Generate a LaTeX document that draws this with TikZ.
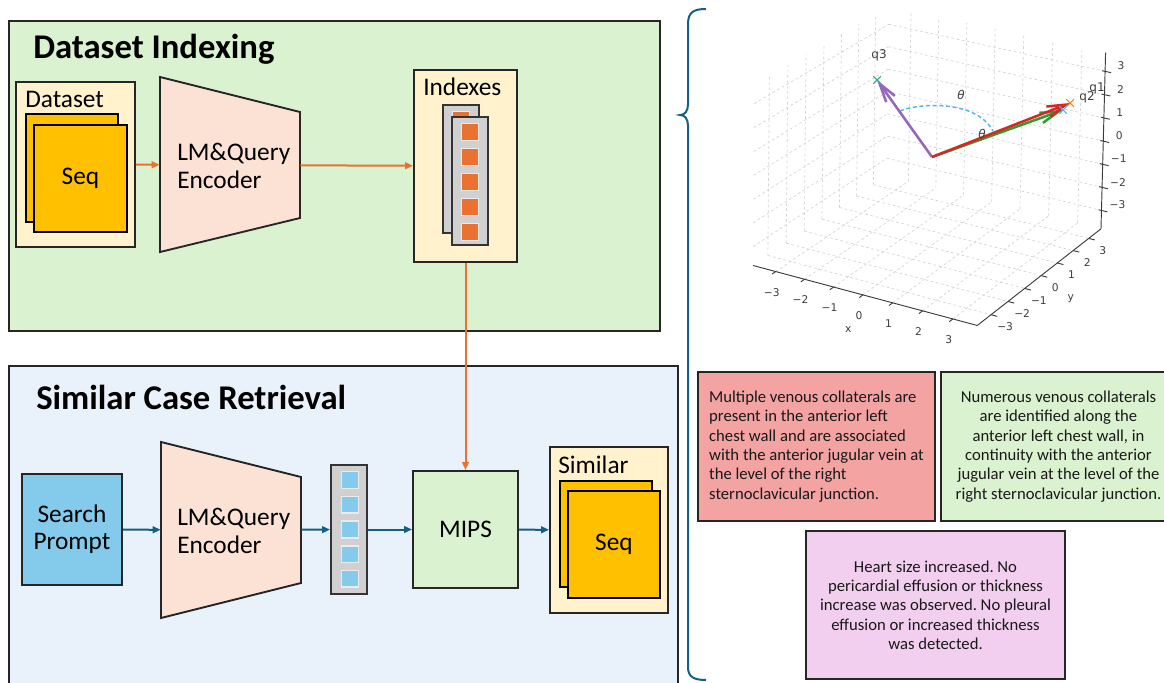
\documentclass[tikz,border=0pt]{standalone}
\usepackage{fontspec}
\setmainfont{Carlito}
\newfontfamily\pltfont{DejaVu Sans}
\usetikzlibrary{arrows.meta,positioning,fit,shapes.misc}
\definecolor{PanelGreen}{HTML}{DAF2D0}
\definecolor{PanelBlue}{HTML}{E9F1FA}
\definecolor{BoxCream}{HTML}{FFF2CC}
\definecolor{SeqGold}{HTML}{FFC000}
\definecolor{EncPeach}{HTML}{FBE2D5}
\definecolor{PromptBlue}{HTML}{84CBEB}
\definecolor{FlowOrange}{HTML}{E97132}
\definecolor{FlowBlue}{HTML}{156082}
\definecolor{ColGray}{HTML}{D0D0D0}
\definecolor{NoteRed}{HTML}{F4A3A3}
\definecolor{NotePink}{HTML}{F2CEEF}
\definecolor{GridGray}{HTML}{D2D2D2}
\definecolor{AxisGray}{HTML}{3C3C3C}
\definecolor{PlotPurple}{HTML}{9467BD}
\definecolor{PlotRed}{HTML}{D62728}
\definecolor{PlotGreen}{HTML}{2CA02C}
\definecolor{PlotOrange}{HTML}{FF7F0E}
\definecolor{PlotTeal}{HTML}{2CA58D}
\definecolor{ArcBlue}{HTML}{56B4E9}

% plot space: data (x,y,z) -> picture, with a little perspective
\pgfkeys{/plt/.is family, /plt/x/.store in=\pltx, /plt/y/.store in=\plty, /plt/z/.store in=\pltz}
\tikzdeclarecoordinatesystem{plt}{%
  \pgfqkeys{/plt}{x=0,y=0,z=0,#1}%
  \pgfmathsetmacro\plts{1+0.012*(0.433*\pltx-0.75*\plty+0.1*\pltz)}%
  \pgfmathsetmacro\pltu{931+\plts*(29*\pltx+17*\plty+0.4*\pltz)}%
  \pgfmathsetmacro\pltv{158+\plts*(7*\pltx-11.5*\plty-23.5*\pltz)}%
  \pgfpointxy{\pltu}{\pltv}}

\begin{document}
\begin{tikzpicture}[
  x=0.75pt, y=-0.75pt,
  panel/.style={draw=black!85, line width=1.4pt, inner sep=0pt},
  paneltitle/.style={anchor=west, inner sep=0pt, font=\fontsize{26}{30}\selectfont\bfseries},
  lbl/.style={font=\fontsize{19}{20.5}\selectfont},
  tag/.style={lbl, anchor=west, inner sep=0pt},
  cream/.style={draw=black!85, line width=1.4pt, fill=BoxCream, inner sep=0pt},
  seqcard/.style={draw=black, line width=1.4pt, fill=SeqGold, inner sep=0pt},
  encoder/.style={draw=black!85, line width=1.4pt, fill=EncPeach},
  column/.style={draw=black!80, line width=1.4pt, fill=ColGray, inner sep=0pt},
  cell/.style={draw=black!8, line width=1.2pt, minimum size=12.5pt, inner sep=0pt},
  flowo/.style={-{Triangle[length=6pt,width=5pt]}, line width=1.5pt, FlowOrange},
  flowb/.style={-{Triangle[length=6pt,width=5pt]}, line width=1.5pt, FlowBlue},
  note/.style={draw=black!85, line width=1.4pt, inner sep=0pt},
  notetext/.style={font=\fontsize{12.5}{14.5}\selectfont\frenchspacing, text=black!90},
  plotgrid/.style={GridGray, line width=0.5pt, dash pattern=on 2pt off 2pt},
  plotaxis/.style={AxisGray, line width=0.7pt},
  ticklbl/.style={font=\pltfont\fontsize{8}{9}\selectfont, text=AxisGray, inner sep=0pt},
  vec/.style={line width=1.9pt, -{Straight Barb[length=14pt,width=8pt]}},
  marker/.style={cross out, draw, line width=0.8pt, minimum size=5pt, inner sep=0pt}
]
  \useasboundingbox (0,0) rectangle (1164,682);
  \clip (0,0) rectangle (1164,682);

  % panels
  \node[panel, fill=PanelGreen, fit={(9,21) (660,331)}] (indexing) {};
  \node[paneltitle] (indexingtitle) at (33,49) {Dataset Indexing};
  \node[panel, fill=PanelBlue, fit={(9,366) (678,700)}] (retrieval) {};
  \node[paneltitle] (retrievaltitle) at (36,397) {Similar Case Retrieval};

  % dataset indexing
  \node[cream, fit={(16,82) (135,247)}] (dataset) {};
  \node[tag] (datasetlbl) at (25,99) {Dataset};
  \node[seqcard, fit={(26,114) (118,222)}] (seqback) {};
  \node[seqcard, fit={(34,125) (127,232)}] (seq) {};
  \node[lbl] (seqtxt) at (seq.center) {Seq};

  \draw[encoder] (160,77) -- (300,112) -- (300,218) -- (160,252) -- cycle;
  \node[fit={(160,112) (300,218)}, inner sep=0pt] (enc) {};
  \node[tag, align=left] (enclbl) at (177,166) {LM\&Query\\Encoder};

  \node[cream, fit={(414,70) (517,262)}] (indexes) {};
  \node[tag] (indexeslbl) at (423,87) {Indexes};
  \node[column, fit={(443,105) (479,233)}] (idxback) {};
  \foreach \i in {0,...,4}
    \node[cell, fill=FlowOrange] (idxb\i) at (461,120+25*\i) {};
  \node[column, fit={(452,117) (488,245)}] (idxfront) {};
  \foreach \i in {0,...,4}
    \node[cell, fill=FlowOrange] (idxf\i) at (470,132+25*\i) {};

  \draw[flowo] (dataset) -- (enc);
  \draw[flowo] (enc) -- (indexes);

  % similar case retrieval
  \node[panel, fill=PromptBlue, fit={(22,474) (122,585)}] (prompt) {};
  \node[lbl, align=center] (prompttxt) at (prompt.center) {Search\\Prompt};
  \draw[encoder] (161,442) -- (301,477) -- (301,583) -- (161,618) -- cycle;
  \node[fit={(161,477) (301,583)}, inner sep=0pt] (enctwo) {};
  \node[tag, align=left] (enctwolbl) at (177,531) {LM\&Query\\Encoder};
  \node[column, fit={(331,465) (367,594)}] (query) {};
  \foreach \i in {0,...,4}
    \node[cell, fill=PromptBlue] (qcell\i) at (350,480+24.7*\i) {};
  \node[panel, fill=PanelGreen, fit={(413,471) (518,588)}] (mips) {};
  \node[lbl] (mipstxt) at (mips.center) {MIPS};
  \node[cream, fit={(550,447) (668,613)}] (similar) {};
  \node[tag] (similarlbl) at (558,465) {Similar};
  \node[seqcard, fit={(560,481) (652,587)}] (simback) {};
  \node[seqcard, fit={(568,491) (660,598)}] (simseq) {};
  \node[lbl] (simseqtxt) at (simseq.center) {Seq};

  \draw[flowb] (prompt) -- (enctwo);
  \draw[flowb] (enctwo) -- (query);
  \draw[flowb] (query) -- (mips);
  \draw[flowb] (mips) -- (similar);
  \draw[flowo] (indexes) -- (mips);

  % brace
  \draw[FlowBlue, line width=1.5pt] (706,9) .. controls (694,9) and (688,12) .. (688,24)
    -- (688,104) .. controls (688,111) and (685,115) .. (680,115)
    .. controls (685,115) and (688,119) .. (688,126)
    -- (688,667) .. controls (688,677) and (694,680) .. (706,680);

  % embedding space plot
  \foreach \k in {-3,...,3} {
    \draw[plotgrid] (plt cs:x=\k,y=-3.8,z=-3.8) -- (plt cs:x=\k,y=3.8,z=-3.8);
    \draw[plotgrid] (plt cs:x=-3.8,y=\k,z=-3.8) -- (plt cs:x=3.8,y=\k,z=-3.8);
    \draw[plotgrid] (plt cs:x=\k,y=3.8,z=-3.8) -- (plt cs:x=\k,y=3.8,z=3.8);
    \draw[plotgrid] (plt cs:x=-3.8,y=3.8,z=\k) -- (plt cs:x=3.8,y=3.8,z=\k);
    \draw[plotgrid] (plt cs:x=-3.8,y=\k,z=-3.8) -- (plt cs:x=-3.8,y=\k,z=3.8);
    \draw[plotgrid] (plt cs:x=-3.8,y=-3.8,z=\k) -- (plt cs:x=-3.8,y=3.8,z=\k);
  }
  \draw[plotaxis] (plt cs:x=-3.8,y=-3.8,z=-3.8) -- (plt cs:x=3.8,y=-3.8,z=-3.8)
    -- (plt cs:x=3.8,y=3.8,z=-3.8) -- (plt cs:x=3.8,y=3.8,z=3.8);
  \foreach \k/\t [count=\n] in {-3/−3,-2/−2,-1/−1,0/0,1/1,2/2,3/3} {
    \draw[plotaxis] (plt cs:x=\k,y=-3.8,z=-3.8) -- (plt cs:x=\k,y=-4.0,z=-3.8);
    \node[ticklbl, xshift=-3pt, yshift=-15.5pt] (xtick\n) at (plt cs:x=\k,y=-3.8,z=-3.8) {\t};
    \draw[plotaxis] (plt cs:x=3.8,y=\k,z=-3.8) -- (plt cs:x=4.0,y=\k,z=-3.8);
    \node[ticklbl, xshift=10.5pt, yshift=-9pt] (ytick\n) at (plt cs:x=3.8,y=\k,z=-3.8) {\t};
    \draw[plotaxis] (plt cs:x=3.7,y=3.8,z=\k) -- (plt cs:x=4.0,y=3.8,z=\k);
    \node[ticklbl, xshift=12pt, yshift=4pt] (ztick\n) at (plt cs:x=3.8,y=3.8,z=\k) {\t};
  }
  \node[ticklbl, xshift=-11pt, yshift=-26pt] (xname) at (plt cs:x=0,y=-3.8,z=-3.8) {x};
  \node[ticklbl, xshift=22pt, yshift=-17pt] (yname) at (plt cs:x=3.8,y=0,z=-3.8) {y};

  \coordinate (origin) at (932,157);
  \coordinate (qthree) at (877,80);
  \coordinate (qone) at (1070,103);
  \coordinate (qtwo) at (1063,110);
  \draw[ArcBlue, line width=1.1pt, dash pattern=on 3pt off 2pt] (900,111) .. controls (915,104) and (975,98) .. (993,131);
  \draw[vec, PlotPurple] (origin) -- (qthree);
  \draw[vec, PlotGreen] (origin) -- (qtwo);
  \draw[vec, PlotRed] (origin) -- (qone);
  \node[marker, PlotTeal] (markthree) at (qthree) {};
  \node[marker, PlotOrange] (markone) at (qone) {};
  \node[marker, ArcBlue] (marktwo) at (qtwo) {};
  \node[ticklbl, font=\pltfont\fontsize{9}{9}\selectfont] (qthreelbl) at (879,55) {q3};
  \node[ticklbl, font=\pltfont\fontsize{9}{9}\selectfont] (qonelbl) at (1097,88) {q1};
  \node[ticklbl, font=\pltfont\fontsize{9}{9}\selectfont] (qtwolbl) at (1087,97) {q2};
  \node[ticklbl, font=\pltfont\itshape\fontsize{9}{9}\selectfont] (thetaone) at (961,95) {θ};
  \node[ticklbl, font=\pltfont\itshape\fontsize{9}{9}\selectfont] (thetatwo) at (982,134) {θ};

  % report texts
  \node[note, fill=NoteRed, fit={(698,372) (935,521)}] (noteone) {};
  \node[notetext, align=left] (noteonetxt) at (noteone.center) {Multiple venous collaterals are\\present in the anterior left\\chest wall and are associated\\with the anterior jugular vein at\\the level of the right\\sternoclavicular junction.};
  \node[note, fill=PanelGreen, fit={(941,372) (1176,521)}] (notetwo) {};
  \node[notetext, align=center] (notetwotxt) at (notetwo.center) {Numerous venous collaterals\\are identified along the\\anterior left chest wall, in\\continuity with the anterior\\jugular vein at the level of the\\right sternoclavicular junction.};
  \node[note, fill=NotePink, fit={(806,531) (1065,679)}] (notethree) {};
  \node[notetext, align=center] (notethreetxt) at (notethree.center) {Heart size increased. No\\pericardial effusion or thickness\\increase was observed. No pleural\\effusion or increased thickness\\was detected.};
\end{tikzpicture}
\end{document}
